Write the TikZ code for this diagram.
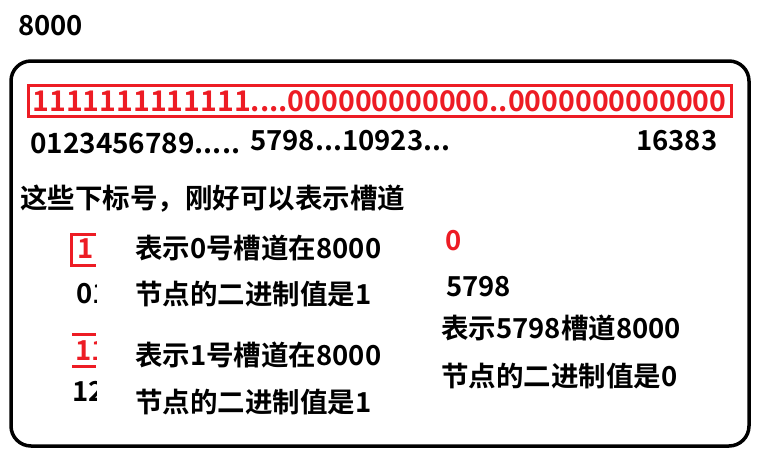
\documentclass[tikz,border=0pt]{standalone}
\usepackage{fontspec}
\newfontfamily\cjk{Noto Sans CJK SC}[BoldFont={Noto Sans CJK SC Bold}]
\definecolor{myred}{RGB}{237,28,36}
\begin{document}
\begin{tikzpicture}[x=1pt,y=-1pt,
  txt/.style={anchor=west,inner sep=0pt,font=\cjk\bfseries\fontsize{27.5}{32}\selectfont},
  redtxt/.style={txt,text=myred}]
\useasboundingbox (0,0) rectangle (772,461);
\fill[white] (0,0) rectangle (772,461);
\node[txt] (title) at (18,26) {8000};
\draw[line width=3.5pt,rounded corners=20pt] (11,61) rectangle (749,446);
\node[draw=myred,line width=3pt,minimum width=703pt,minimum height=31pt,inner sep=0pt] (bits) at (379.5,101) {};
\node[redtxt,anchor=center] (bitstxt) at (bits.center) {\resizebox{694pt}{!}{1111111111111....000000000000..0000000000000}};
\node[txt] (idx1) at (30,143) {\resizebox{210pt}{!}{0123456789.....}};
\node[txt] (idx2) at (250,141) {\resizebox{200pt}{!}{5798...10923...}};
\node[txt] (idx3) at (636,141) {16383};
\node[txt] (hdr) at (20,199) {这些下标号，刚好可以表示槽道};
% first small group
\begin{scope}
\clip (70,225) rectangle (96,305);
\node[redtxt] (r1) at (77,249) {1};
\node[txt] (z1) at (76,294) {01};
\end{scope}
\draw[myred,line width=3pt] (96,234) -- (71.5,234) -- (71.5,265.5) -- (96,265.5);
\node[txt] (t1) at (135,248) {表示0号槽道在8000};
\node[txt] (t2) at (135,294) {节点的二进制值是1};
% second small group
\begin{scope}
\clip (72,325) rectangle (96,410);
\node[redtxt] (r2) at (75,351) {11};
\node[txt] (z2) at (72,391) {12};
\end{scope}
\draw[myred,line width=3pt] (72,334) -- (96,334);
\draw[myred,line width=3pt] (72,366) -- (96,366);
\node[txt] (t3) at (135,355) {表示1号槽道在8000};
\node[txt] (t4) at (135,402) {节点的二进制值是1};
% right column
\node[redtxt] (r3) at (445,241) {0};
\node[txt] (n3) at (446,287) {5798};
\node[txt] (t5) at (441,328) {表示5798槽道8000};
\node[txt] (t6) at (441,376) {节点的二进制值是0};
\end{tikzpicture}
\end{document}
